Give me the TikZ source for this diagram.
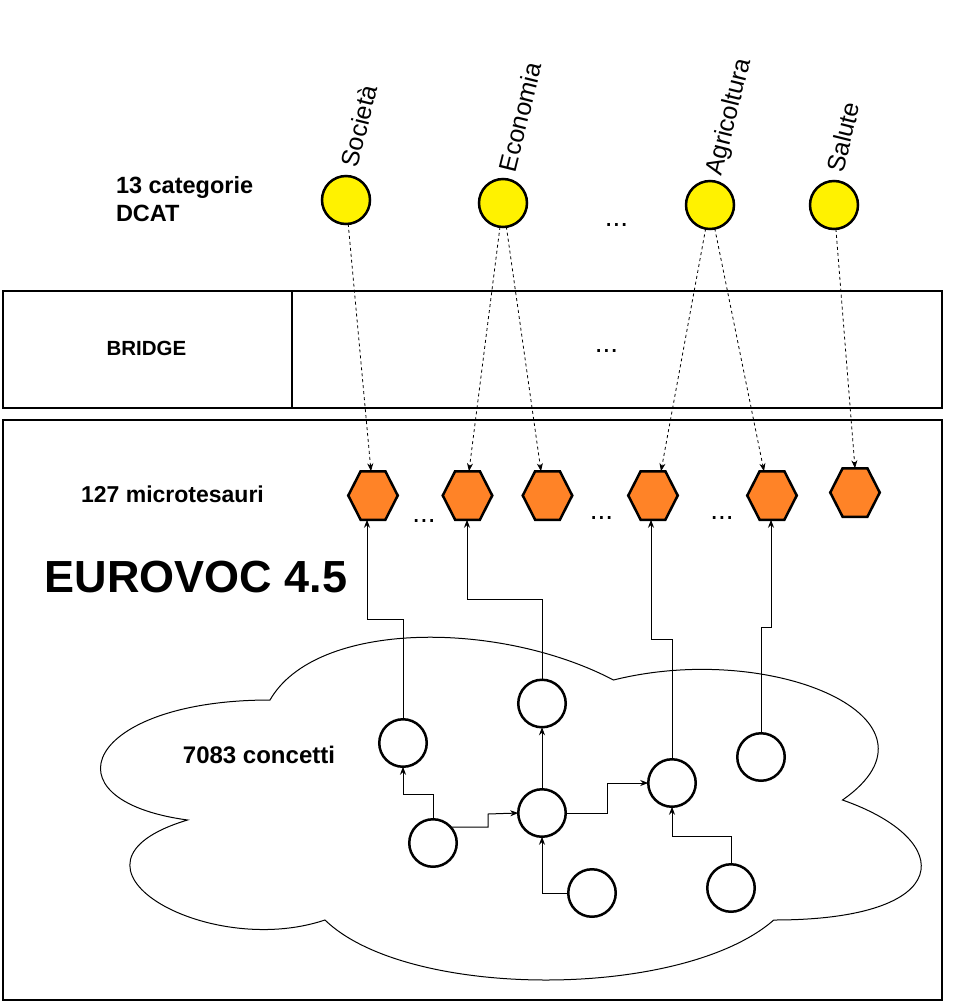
\documentclass[tikz,border=0pt]{standalone}
\usepackage{fontspec}
\setmainfont{Liberation Sans}
\usetikzlibrary{arrows.meta,calc}
\definecolor{catyellow}{RGB}{255,242,0}
\definecolor{hexorange}{RGB}{255,131,39}
\begin{document}
\begin{tikzpicture}[x=1pt,y=-1pt,
  every node/.style={inner sep=0pt, outer sep=0pt},
  frame/.style={draw, line width=1.2pt},
  boldlbl/.style={font=\fontsize{23.5}{28}\selectfont\bfseries},
  catlabel/.style={font=\fontsize{25}{30}\selectfont, rotate=76},
  dots/.style={font=\fontsize{28}{30}\selectfont, anchor=base},
  catnode/.style={circle, draw, line width=2.5pt, fill=catyellow, minimum size=48pt},
  concept/.style={circle, draw, line width=2.5pt, fill=white, minimum size=47.5pt},
  hexbox/.style={rectangle, minimum width=49.5pt, minimum height=48.5pt},
  hexline/.style={draw, line width=2.5pt, fill=hexorange, line join=miter},
  dasharrow/.style={draw, line width=0.8pt, dash pattern=on 3pt off 3pt, -{Stealth[length=8pt,width=6pt,inset=2.5pt]}},
  conn/.style={draw, line width=1pt, -{Stealth[length=8pt,width=6pt,inset=2.5pt]}}
]
\useasboundingbox (0,0) rectangle (954,1002);

% frames
\node[frame, anchor=north west, minimum width=289pt, minimum height=117pt] (bridgeL) at (3,291) {};
\node[frame, anchor=north west, minimum width=650pt, minimum height=117pt] (bridgeR) at (292,291) {};
\node[frame, anchor=north west, minimum width=939pt, minimum height=580pt] (eurovoc) at (3,420) {};

% cloud
\draw[line width=1pt] (270,700)
  .. controls (86.8,700) and (41,800) .. (187.56,820)
  .. controls (41,864) and (205.88,960) .. (324.96,920)
  .. controls (407.4,1000) and (682.2,1000) .. (773.8,920)
  .. controls (957,920) and (957,840) .. (842.5,800)
  .. controls (957,720) and (773.8,640) .. (613.5,680)
  .. controls (499,620) and (315.8,620) .. (270,700) -- cycle;

% texts
\node[boldlbl, anchor=base west] (cat1) at (116,193) {13 categorie};
\node[boldlbl, anchor=base west] (cat2) at (116,221.5) {DCAT};
\node[font=\fontsize{20.5}{24}\selectfont\bfseries, anchor=base] (bridgetxt) at (146.5,355) {BRIDGE};
\node[font=\fontsize{23}{28}\selectfont\bfseries, anchor=base] (microtxt) at (172.5,502) {127 microtesauri};
\node[font=\fontsize{45}{50}\selectfont\bfseries, anchor=base] (eurotxt) at (196,592) {EUROVOC 4.5};
\node[font=\fontsize{24}{28}\selectfont\bfseries, anchor=base] (conctxt) at (259,763) {7083 concetti};

\node[dots] (dtop) at (616.5,226.5) {...};
\node[dots] (dbr) at (606.5,352.5) {...};
\node[dots] (dh1) at (424,522) {...};
\node[dots] (dh2) at (601.5,519) {...};
\node[dots] (dh3) at (722,519) {...};

% category circles
\node[catnode] (soc) at (346,200) {};
\node[catnode] (eco) at (503,203) {};
\node[catnode] (agr) at (710,205) {};
\node[catnode] (sal) at (834,205) {};

\node[catlabel] (lsoc) at (359,126) {Società};
\node[catlabel] (leco) at (520,117) {Economia};
\node[catlabel] (lagr) at (730,117) {Agricoltura};
\node[catlabel] (lsal) at (843,137) {Salute};

% hexagons
\node[hexbox] (h1) at (373,495.5) {};
\node[hexbox] (h2) at (467.5,495.5) {};
\node[hexbox] (h3) at (547.5,495.5) {};
\node[hexbox] (h4) at (653,495.5) {};
\node[hexbox] (h5) at (772,495.5) {};
\node[hexbox] (h6) at (855,492.5) {};
\foreach \h in {h1,h2,h3,h4,h5,h6}
  \path[hexline] ($(\h.north west)!0.25!(\h.north east)$) -- ($(\h.north west)!0.75!(\h.north east)$) -- (\h.east)
    -- ($(\h.south west)!0.75!(\h.south east)$) -- ($(\h.south west)!0.25!(\h.south east)$) -- (\h.west) -- cycle;

% concept circles
\node[concept] (cA) at (403,743) {};
\node[concept] (cB) at (542,703.5) {};
\node[concept] (cC) at (542,813) {};
\node[concept] (cD) at (433,843) {};
\node[concept] (cE) at (592,893) {};
\node[concept] (cF) at (672,783) {};
\node[concept] (cG) at (761,757) {};
\node[concept] (cH) at (731,888) {};

% dashed category -> microthesaurus
\path[dasharrow] (soc) -- (371,0 |- h1.north);
\path[dasharrow] (eco) -- (469,0 |- h2.north);
\path[dasharrow] (eco) -- (541,0 |- h3.north);
\path[dasharrow] (agr) -- (661,0 |- h4.north);
\path[dasharrow] (agr) -- (764,0 |- h5.north);
\path[dasharrow] (sal) -- (855,0 |- h6.north);

% concept -> microthesaurus
\path[conn] (cA.north) |- (367,619) -- (367,0 |- h1.south);
\path[conn] (cB.north) |- (467,599) -- (467,0 |- h2.south);
\path[conn] (cF.north) |- (651,639) -- (651,0 |- h4.south);
\path[conn] (cG.north) |- (771,627) -- (771,0 |- h5.south);

% concept relations
\path[conn] (cD.north) |- (403,794) -- (cA.south);
\path[conn] (cD.42) -| (488,814) -- (cC.west);
\path[conn] (cC.north) -- (cB.south);
\path[conn] (cE.west) -| (cC.south);
\path[conn] (cC.east) -| (607,783) -- (cF.west);
\path[conn] (cH.north) |- (672,836) -- (cF.south);
\end{tikzpicture}
\end{document}
